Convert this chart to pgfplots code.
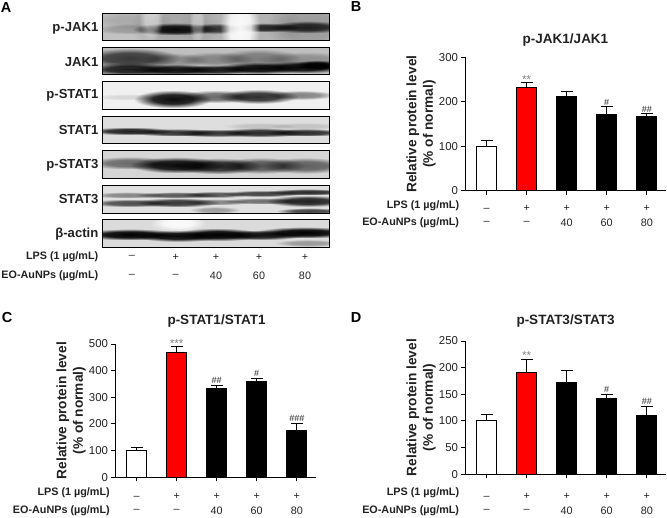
\documentclass[border=0pt]{standalone}
\usepackage{pgfplots}
\pgfplotsset{compat=1.18}
\usepackage{fontspec}
\setmainfont{Liberation Sans}
\usetikzlibrary{fadings}
\definecolor{ink}{gray}{0.13}
\pgfdeclareradialshading{bandshade}{\pgfpoint{0bp}{0bp}}{color(0bp)=(pgftransparent!0); color(13bp)=(pgftransparent!12); color(25bp)=(pgftransparent!100); color(50bp)=(pgftransparent!100)}
\pgfdeclarefading{bandfade}{\pgfuseshading{bandshade}}
\newcommand{\band}[5]{\fill[black,opacity=#5,path fading=bandfade,fit fading=true] ({#1-1.7*#3},{#2-1.8*#4}) rectangle ({#1+1.7*#3},{#2+1.8*#4});}
\newcommand{\lite}[5]{\fill[white,opacity=#5,path fading=bandfade,fit fading=true] ({#1-2*#3},{#2-2*#4}) rectangle ({#1+2*#3},{#2+2*#4});}
\newcommand{\blot}[4]{% top, bottom, gray, bands
  \begin{scope}
  \clip (102.7,#1) rectangle (329.3,#2);
  \fill[black!#3!white] (102.7,#1) rectangle (329.3,#2);
  #4
  \end{scope}
  \draw[black,line width=0.8pt] (102.7,#1) rectangle (329.3,#2);}
\newcommand{\rr}{\rule{0pt}{9pt}}
\pgfplotsset{panel/.style={
  scale only axis, width=201pt, height=133.3pt, clip=false,
  anchor=south west,
  axis x line=bottom, axis y line=left,
  axis line style={-,line width=1pt,black},
  tick style={line width=1pt,black},
  major tick length=4pt, tick align=outside,
  xmin=-0.54, xmax=4.48, ymin=0,
  xtick={0,1,2,3,4},
  xticklabels={{\rr –},{\rr +},{\rr +},{\rr +},{\rr +}},
  xticklabel style={inner sep=0pt,font=\fontsize{10.8}{13}\selectfont,text=ink},
  yticklabel style={font=\fontsize{11.4}{13}\selectfont,text=ink,xshift=0.5pt},
  /pgf/number format/assume math mode=true,
  every axis y label/.style={at={(axis description cs:-0.219,0.5)},rotate=90,anchor=center,align=center,font=\bfseries\fontsize{13.7}{16.5}\selectfont,text=ink},
  ylabel={Relative protein level\\(\% of normal)},
  title style={font=\bfseries\fontsize{13.5}{15}\selectfont,text=ink},
  ybar, bar width=20pt, bar shift=0pt,
  every axis plot/.append style={draw=black,line width=1pt,
    error bars/y dir=plus, error bars/y explicit,
    error bars/error bar style={black,line width=1pt},
    error bars/error mark options={black,line width=1pt,mark size=6pt,rotate=90}},
}}
\newcommand{\rows}[3]{%
  \node[anchor=east,inner sep=0pt,font=\bfseries\fontsize{10.8}{13}\selectfont,text=ink] at (#1,#2) {LPS (1 µg/mL)};
  \node[anchor=east,inner sep=0pt,font=\bfseries\fontsize{10.8}{13}\selectfont,text=ink] at (#1,#3) {EO-AuNPs (µg/mL)};}
\newcommand{\sig}[3]{\node[font=\fontsize{9}{9}\selectfont,text=#3,anchor=south,inner sep=0pt,yshift=1.5pt] at (axis cs:#1) {#2};}
\newcommand{\stars}[2]{\node[font=\fontsize{11.5}{11}\selectfont,text=gray,anchor=south,inner sep=0pt,yshift=-1pt] at (axis cs:#1) {#2};}
\newcommand{\second}[1]{%
  \node[inner sep=0pt,font=\fontsize{10.8}{13}\selectfont,text=ink,yshift=-#1pt] at (axis cs:0,0) {–};
  \node[inner sep=0pt,font=\fontsize{10.8}{13}\selectfont,text=ink,yshift=-#1pt] at (axis cs:1,0) {–};
  \node[inner sep=0pt,font=\fontsize{10.8}{13}\selectfont,text=ink,yshift=-#1pt] at (axis cs:2,0) {40};
  \node[inner sep=0pt,font=\fontsize{10.8}{13}\selectfont,text=ink,yshift=-#1pt] at (axis cs:3,0) {60};
  \node[inner sep=0pt,font=\fontsize{10.8}{13}\selectfont,text=ink,yshift=-#1pt] at (axis cs:4,0) {80};}
\begin{document}
\begin{tikzpicture}[x=1pt,y=-1pt]
\path[use as bounding box] (0,0) rectangle (667,517);
\tikzset{lab/.style={anchor=east,inner sep=0pt,font=\bfseries\fontsize{13.1}{15}\selectfont,text=ink},
 letter/.style={font=\bfseries\fontsize{14.5}{16}\selectfont,text=black}}
\node[letter] at (6,8) {A};
\node[letter] at (356,7) {B};
\node[letter] at (7,318) {C};
\node[letter] at (356,318) {D};
% blots
\blot{13.3}{40.7}{24}{
 \band{132}{20}{24}{5}{.12}\band{132}{29}{24}{3}{.2}
 \band{175}{26}{26}{16}{.14}\band{216}{26}{22}{16}{.08}\band{265}{26}{22}{16}{.08}\band{308}{26}{24}{16}{.2}
 \band{175}{29}{25}{3.5}{.95}\band{216}{28.5}{17}{3}{.7}\band{265}{27.5}{22}{2.6}{.8}\band{308}{27}{23}{3.5}{.8}
 \lite{240}{27}{10}{20}{.95}\lite{151}{18}{6}{12}{.5}\lite{197}{22}{4}{12}{.4}}
\blot{47.3}{74.7}{25}{
 \band{130}{58}{30}{5.5}{.7}\band{130}{69}{27}{3.5}{.85}
 \band{175}{60}{20}{4}{.25}\band{175}{69.5}{26}{3}{.9}
 \band{216}{59}{23}{4}{.3}\band{216}{69.5}{24}{2.6}{.85}
 \band{259}{58}{25}{5}{.35}\band{259}{68}{26}{3.2}{.95}
 \band{305}{59}{27}{4}{.25}\band{303}{67}{27}{3.4}{.95}\band{318}{65}{14}{2.8}{1}}
\blot{81.7}{109.3}{6}{
 \band{130}{97}{22}{1.8}{.1}\band{173}{99}{23}{5}{.95}\band{216}{96.5}{22}{3.6}{.55}\band{258}{96.5}{24}{4}{.8}\band{301}{95}{21}{2.6}{.45}}
\blot{116}{143.3}{13}{
 \band{130}{131}{26}{2.2}{.85}\band{178}{132.5}{26}{2.2}{.75}\band{216}{133}{24}{2.2}{.7}\band{260}{132.5}{26}{2.6}{.8}\band{305}{132.5}{25}{2.2}{.8}
 \band{260}{126}{22}{2}{.12}\band{305}{126}{22}{2}{.12}}
\blot{150.3}{178}{16}{
 \band{130}{163}{26}{3.6}{.5}\band{177}{165}{28}{4.5}{.95}\band{218}{166}{26}{4.5}{.8}\band{261}{165.5}{26}{4.5}{.6}\band{305}{165.5}{26}{4.5}{.55}}
\blot{185.3}{213.3}{12}{
 \band{128}{195}{22}{1.8}{.4}\band{130}{203}{25}{2.2}{.65}
 \band{177}{195}{25}{1.8}{.6}\band{177}{202.5}{25}{2.6}{.75}
 \band{215}{194.5}{20}{1.8}{.6}\band{215}{202}{20}{1.8}{.4}\band{215}{210}{15}{2}{.3}
 \band{262}{193.5}{24}{1.8}{.7}\band{262}{201}{24}{1.8}{.5}
 \band{308}{192}{25}{1.8}{.8}\band{308}{201}{25}{3.2}{.85}\band{310}{211}{20}{1.8}{.7}}
\blot{219.7}{247.3}{14}{
 \lite{178}{223}{14}{4}{.9}
 \band{130}{234.5}{30}{3.2}{1}\band{178}{236}{25}{3.2}{.95}\band{218}{234.5}{26}{3.6}{1}\band{260}{235}{26}{2.8}{.9}\band{305}{232.5}{30}{3.2}{1}\band{308}{243}{20}{2}{.3}}
\node[lab] at (98.5,28) {p-JAK1};
\node[lab] at (98.5,61.7) {JAK1};
\node[lab] at (98.5,95.7) {p-STAT1};
\node[lab] at (98.5,130) {STAT1};
\node[lab] at (98.5,165) {p-STAT3};
\node[lab] at (98.5,199) {STAT3};
\node[lab] at (98.5,234) {β-actin};
\rows{98.5}{257}{276}
\foreach \x/\a/\b in {132/–/–,175.7/+/–,216/+/40,259/+/60,305/+/80}{
 \node[font=\fontsize{10.8}{13}\selectfont,text=ink] at (\x,257) {\a};
 \node[font=\fontsize{10.8}{13}\selectfont,text=ink] at (\x,276) {\b};}
% B
\begin{axis}[panel,at={(465pt,-190.7pt)},ymax=300,ytick={0,100,200,300},
  xticklabel style={yshift=-8pt},
  title={p-JAK1/JAK1},title style={at={(0.5,1)},anchor=south,yshift=2pt}]
\addplot[fill=white] coordinates {(0,100) +- (0,12)};
\addplot[fill=red] coordinates {(1,233) +- (0,11)};
\addplot[fill=black] coordinates {(2,211) +- (0,13) (3,171) +- (0,18) (4,167) +- (0,6)};
\stars{1,244}{**}
\sig{3,189}{\#}{ink}
\sig{4,173}{\#\#}{ink}
\second{32.3}
\end{axis}
\rows{459.3}{205.7}{223}
% C
\begin{axis}[panel,at={(115pt,-477.3pt)},ymax=500,ytick={0,100,...,500},
  xticklabel style={yshift=-8.5pt},
  title={p-STAT1/STAT1},title style={at={(0.5,1)},anchor=south,yshift=7.5pt,xshift=1pt}]
\addplot[fill=white] coordinates {(0,100) +- (0,12)};
\addplot[fill=red] coordinates {(1,470) +- (0,21)};
\addplot[fill=black] coordinates {(2,332) +- (0,13) (3,361) +- (0,9) (4,175) +- (0,27)};
\stars{1,491}{***}
\sig{2,345}{\#\#}{ink}
\sig{3,370}{\#}{ink}
\sig{4,202}{\#\#\#}{ink}
\second{33.7}
\end{axis}
\rows{110}{493}{511}
% D
\begin{axis}[panel,at={(465pt,-474.3pt)},ymax=250,ytick={0,50,...,250},
  xticklabel style={yshift=-11.5pt},
  title={p-STAT3/STAT3},title style={at={(0.5,1)},anchor=south,yshift=4.5pt}]
\addplot[fill=white] coordinates {(0,100) +- (0,12)};
\addplot[fill=red] coordinates {(1,191) +- (0,25)};
\addplot[fill=black] coordinates {(2,172) +- (0,22) (3,142) +- (0,8) (4,110) +- (0,17)};
\stars{1,216}{**}
\sig{3,150}{\#}{ink}
\sig{4,127}{\#\#}{ink}
\second{36.7}
\end{axis}
\rows{459.3}{493}{511}
\end{tikzpicture}
\end{document}
